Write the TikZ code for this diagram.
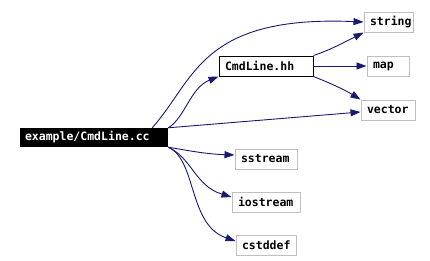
\documentclass[tikz,border=0pt]{standalone}
\usepackage{fontspec}
\setmonofont{DejaVu Sans Mono}
\usetikzlibrary{arrows.meta}

\definecolor{edgeblue}{HTML}{191970}
\definecolor{boxgray}{HTML}{BFBFBF}

\begin{document}
\begin{tikzpicture}[
    x=1pt, y=-1pt,
    >={Triangle[length=10pt,width=7pt]},
    every node/.style={font=\ttfamily\bfseries\fontsize{11.5}{12}\selectfont, inner xsep=6pt, inner ysep=0pt, minimum height=20pt, align=left},
    hdr/.style={draw=boxgray, line width=1pt},
    dep/.style={->, draw=edgeblue, line width=0.9pt}
]
\useasboundingbox (0,0) rectangle (430,260);

% Source file (left)
\node[fill=black, text=white, inner xsep=5pt, text width=138pt, minimum height=19pt] (cc) at (94,137.5) {example/CmdLine.cc};

% Own header
\node[draw=black, line width=1pt, text width=82pt] (hh) at (266,66) {CmdLine.hh};

% System headers (right)
\node[hdr, text width=37pt] (string) at (388.5,22) {string};
\node[hdr, text width=30pt] (map) at (388,66) {map};
\node[hdr, text width=42pt] (vector) at (388,110) {vector};

% System headers (below)
\node[hdr, text width=50pt] (sstream) at (266,159) {sstream};
\node[hdr, text width=56pt] (iostream) at (266,202) {iostream};
\node[hdr, text width=48pt] (cstddef) at (266,245) {cstddef};

% Includes of CmdLine.cc
\draw[dep] ([xshift=-16pt]cc.north east) .. controls (195,80) and (200,15) .. (string.west);
\draw[dep] (cc.north east) .. controls (185,118) and (190,88) .. (hh.south west);
\draw[dep] (cc.north east) -- ([yshift=-2pt]vector.west);
\draw[dep] (cc.south east) .. controls (185,150) and (205,154) .. ([yshift=4pt]sstream.west);
\draw[dep] (cc.south east) .. controls (192,158) and (195,186) .. ([yshift=5pt]iostream.west);
\draw[dep] (cc.south east) .. controls (197,160) and (188,225) .. ([yshift=4pt]cstddef.west);

% Includes of CmdLine.hh
\draw[dep] (hh.north east) .. controls (330,50) and (345,42) .. (string.south west);
\draw[dep] (hh.east) -- (map.west);
\draw[dep] (hh.south east) .. controls (330,83) and (345,90) .. (vector.north west);

\end{tikzpicture}
\end{document}
